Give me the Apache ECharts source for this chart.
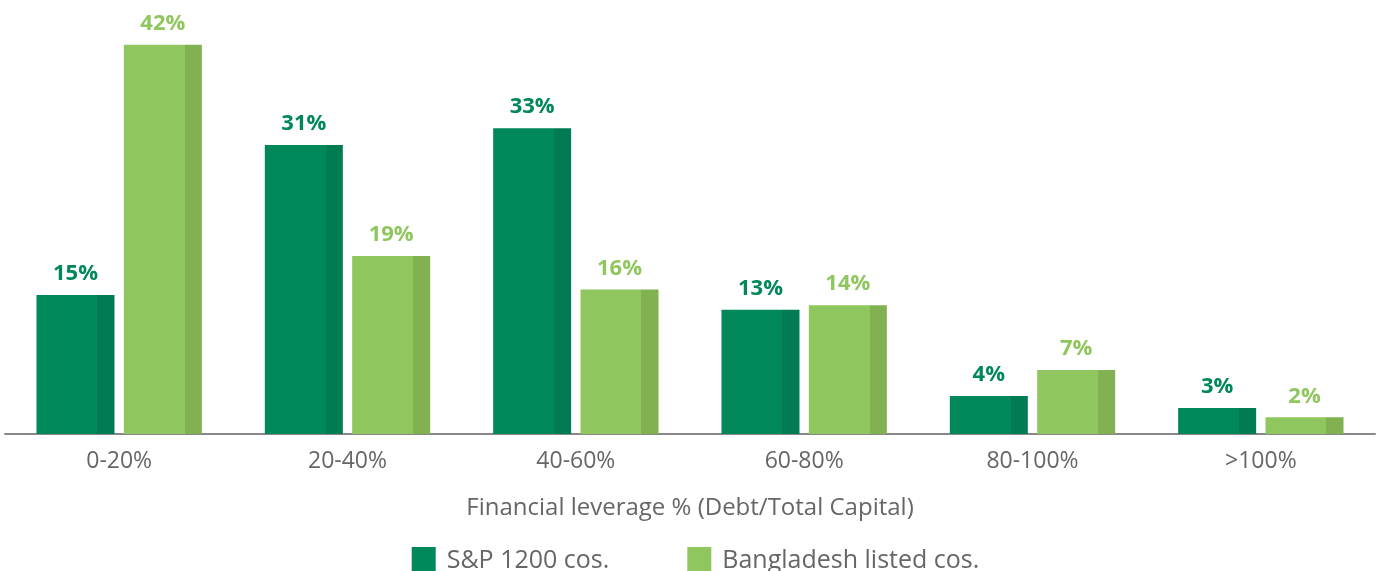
<!DOCTYPE html>
<html>
<head>
<meta charset="utf-8">
<script src="https://cdn.jsdelivr.net/npm/echarts@6/dist/echarts.min.js"></script>
<style>
html,body{margin:0;padding:0;background:#fff;}
#c{width:1391px;height:571px;}
</style>
</head>
<body>
<div id="c"></div>
<script>
const categories = ['0-20%', '20-40%', '40-60%', '60-80%', '80-100%', '>100%'];
const spValues = [15, 31.2, 33, 13.4, 4.1, 2.8];
const bdValues = [42, 19.2, 15.6, 13.9, 6.9, 1.8];
const seriesNames = ['S&P 1200 cos.', 'Bangladesh listed cos.'];
const axisTitle = 'Financial leverage % (Debt/Total Capital)';

const SP_LIGHT = '#00875A', SP_DARK = '#007B53';
const BD_LIGHT = '#8FC65E', BD_DARK = '#82B152';
const FONT = 'Open Sans';

function split(light, dark) {
  return {
    type: 'linear', x: 0, y: 0, x2: 1, y2: 0,
    colorStops: [
      {offset: 0, color: light}, {offset: 0.78, color: light},
      {offset: 0.78, color: dark}, {offset: 1, color: dark}
    ]
  };
}

const chart = echarts.init(document.getElementById('c'));
chart.setOption({
  animation: false,
  textStyle: {fontFamily: FONT},
  grid: {left: 5, width: 1370, top: 17, bottom: 137, containLabel: false},
  legend: {
    data: [
      {name: seriesNames[0], itemStyle: {color: SP_LIGHT}},
      {name: seriesNames[1], itemStyle: {color: BD_LIGHT}}
    ],
    top: 542, left: 'center',
    itemWidth: 24, itemHeight: 27, itemGap: 78,
    icon: 'rect',
    textStyle: {fontFamily: FONT, fontSize: 25, color: '#666', padding: [0, 0, 0, 6]}
  },
  xAxis: {
    type: 'category',
    data: categories,
    axisLine: {lineStyle: {color: '#888', width: 2}},
    axisTick: {show: false},
    axisLabel: {fontFamily: FONT, fontSize: 23, color: '#666', margin: 16},
    name: axisTitle,
    nameLocation: 'middle',
    nameGap: 62,
    nameTextStyle: {fontFamily: FONT, fontSize: 24, color: '#666'}
  },
  yAxis: {type: 'value', min: 0, max: 45, show: false, splitLine: {show: false}},
  series: [
    {
      name: seriesNames[0], type: 'bar', data: spValues,
      barWidth: 78, barGap: '12%',
      itemStyle: {color: split(SP_LIGHT, SP_DARK)},
      label: {show: true, position: 'top', distance: 10,
        formatter: p => Math.round(p.value) + '%',
        fontFamily: FONT, fontWeight: 'bold', fontSize: 22, color: SP_LIGHT}
    },
    {
      name: seriesNames[1], type: 'bar', data: bdValues,
      barWidth: 78,
      itemStyle: {color: split(BD_LIGHT, BD_DARK)},
      label: {show: true, position: 'top', distance: 10,
        formatter: p => Math.round(p.value) + '%',
        fontFamily: FONT, fontWeight: 'bold', fontSize: 22, color: BD_LIGHT}
    }
  ]
});
</script>
</body>
</html>
